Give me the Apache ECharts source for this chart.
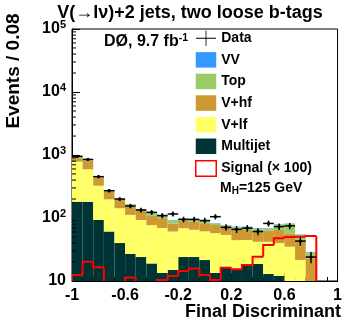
<!DOCTYPE html>
<html><head><meta charset="utf-8">
<script src="https://cdn.jsdelivr.net/npm/echarts@6/dist/echarts.min.js"></script>
<style>html,body{margin:0;padding:0;background:#fff}#c{width:345px;height:322px}</style>
</head><body><div id="c"></div>
<script>
// ---- data ----
const binLow = [-1,-0.92,-0.84,-0.76,-0.68,-0.6,-0.52,-0.44,-0.36,-0.28,-0.2,-0.12,-0.04,0.04,0.12,0.2,0.28,0.36,0.44,0.52,0.6,0.68,0.76,0.84,0.92];
const binW = 0.08;
const multijet = [181,181,93,61,40,27,24,19,13.4,15,24,24,21.5,13.4,16.9,15.5,17.3,18.6,12.9,12,8,5,2,0,0];
const vlf      = [602,412,233,137,103,85,69,58,56,46,45,41,40,44,37,29,27.5,23.4,29,28,27,16.5,3,0,0];
const vhf      = [104,220,117,63,50,39,38,31,30,21,22,22.4,21,20,17,19.8,19.8,19,21,24.6,22,24.5,18,0,0];
const topq     = [47,16,18,10,9,12,6.5,11.5,11.5,9.5,6.5,6.5,7.5,3.8,4.8,6.9,6.9,6.8,4.8,14.2,24,8.2,5.5,0,0];
const vv       = [6,5,3,2,2,2,1.5,1.5,1.5,1.5,1.5,1.5,1.5,1.2,1.2,1.5,1.5,1.2,1.2,1.2,1,0.8,0.5,0,0];
const dataObs  = [950,850,453,271,200,155,134,123,109,116,95,95,91,105,71,66,69,61,82,73,75,43,24,null,null];
const signal   = [12.4,20.2,16.5,8,7,11.4,9,8,10.4,12,14.4,15.8,12.4,10.4,16.2,15.3,17.9,24.3,37.2,47.6,50,50.5,52,0,0];
const xTickLabels = ['-1','-0.6','-0.2','0.2','0.6','1'];
const yDecades = [10,100,1000,10000,100000];

const FONT = '"Liberation Sans", Arial, sans-serif';
const COLORS = {vv:'#3399ff', top:'#99cc66', vhf:'#cc9933', vlf:'#ffff66', mj:'#003333', sig:'#ff0000'};
const FLOOR = 0.01;

const comps = [
  {name:'Multijet', vals:multijet, color:COLORS.mj},
  {name:'V+lf', vals:vlf, color:COLORS.vlf},
  {name:'V+hf', vals:vhf, color:COLORS.vhf},
  {name:'Top', vals:topq, color:COLORS.top},
  {name:'VV', vals:vv, color:COLORS.vv}
];
const cum = binLow.map(()=>0);
const series = [];
comps.forEach(c => {
  const d = binLow.map((x,i) => {
    const lo = cum[i], hi = cum[i] + c.vals[i];
    cum[i] = hi;
    return [x, x + binW, lo, hi];
  });
  series.push({
    type:'custom', name:c.name, clip:true, z:2,
    itemStyle:{color:c.color},
    encode:{x:[0,1], y:[2,3]},
    data:d,
    renderItem:(params, api) => {
      const x0 = api.value(0), x1 = api.value(1), lo = api.value(2), hi = api.value(3);
      if (!(hi > lo) || hi <= 0) return null;
      const p0 = api.coord([x0, Math.max(lo, FLOOR)]);
      const p1 = api.coord([x1, hi]);
      return {type:'rect', shape:{x:p0[0], y:p1[1], width:p1[0]-p0[0], height:p0[1]-p1[1]},
              style:{fill:c.color, stroke:null}};
    }
  });
});

// signal step line
series.push({
  type:'custom', name:'Signal (× 100)', clip:true, z:4,
  itemStyle:{color:COLORS.sig},
  encode:{x:[0,1], y:[2,3]},
  data: binLow.map((x,i) => [x, x + binW, i ? signal[i-1] : 0, signal[i]]),
  renderItem:(params, api) => {
    const x0 = api.value(0), x1 = api.value(1);
    const prev = Math.max(api.value(2), FLOOR), cur = Math.max(api.value(3), FLOOR);
    return {type:'polyline', shape:{points:[api.coord([x0, prev]), api.coord([x0, cur]), api.coord([x1, cur])]},
            style:{stroke:COLORS.sig, lineWidth:2, fill:null}};
  }
});

// data points
series.push({
  type:'custom', name:'Data', clip:true, z:5,
  itemStyle:{color:'#000'},
  encode:{x:0, y:1},
  data: binLow.map((x,i) => dataObs[i] == null ? null : [x + binW/2, dataObs[i], x, x + binW]).filter(d => d),
  renderItem:(params, api) => {
    const xc = api.value(0), n = api.value(1), x0 = api.value(2), x1 = api.value(3);
    const e = Math.sqrt(n);
    const pc = api.coord([xc, n]);
    const pl = api.coord([x0, n]), pr = api.coord([x1, n]);
    const pt = api.coord([xc, n + e]), pb = api.coord([xc, Math.max(n - e, FLOOR)]);
    return {type:'group', children:[
      {type:'line', shape:{x1:pl[0], y1:pl[1], x2:pr[0], y2:pr[1]}, style:{stroke:'#000', lineWidth:1.5}},
      {type:'line', shape:{x1:pt[0], y1:pt[1], x2:pb[0], y2:pb[1]}, style:{stroke:'#000', lineWidth:1.5}},
      {type:'circle', shape:{cx:pc[0], cy:pc[1], r:1.6}, style:{fill:'#000'}}
    ]};
  }
});

// log minor ticks on the y axis
const yMinor = [];
yDecades.slice(0,-1).forEach(d => { for (let m = 2; m <= 9; m++) yMinor.push(m * d); });
series.push({
  type:'custom', name:'yminor', clip:false, z:6, silent:true,
  encode:{y:0},
  data: yMinor.map(v => [v]),
  renderItem:(params, api) => {
    const p = api.coord([-1, api.value(0)]);
    return {type:'line', shape:{x1:p[0], y1:p[1], x2:p[0]+4, y2:p[1]}, style:{stroke:'#000', lineWidth:1}};
  }
});

const chart = echarts.init(document.getElementById('c'), null, {renderer:'canvas'});
chart.setOption({
  animation:false,
  backgroundColor:'#fff',
  grid:{left:72, right:3, top:29, bottom:41, show:true, borderColor:'#000', borderWidth:1, backgroundColor:'transparent'},
  xAxis:{
    type:'value', min:-1, max:1, interval:0.4,
    axisLine:{onZero:false, lineStyle:{color:'#000', width:1}},
    axisTick:{inside:true, length:8, lineStyle:{color:'#000'}},
    minorTick:{show:true, splitNumber:5, length:4, lineStyle:{color:'#000'}},
    splitLine:{show:false},
    axisLabel:{margin:7, color:'#000', fontFamily:FONT, fontWeight:'bold', fontSize:16,
      formatter:(v) => { const i = Math.round((v + 1) / 0.4); return xTickLabels[i] != null ? xTickLabels[i] : ''; }}
  },
  yAxis:{
    type:'log', logBase:10, min:10, max:100000,
    axisLine:{onZero:false, lineStyle:{color:'#000', width:1}},
    axisTick:{inside:true, length:8, lineStyle:{color:'#000'}},
    splitLine:{show:false},
    axisLabel:{margin:6, color:'#000',
      formatter:(v) => { const e = Math.round(Math.log10(v)); return e === 1 ? '{b|10}' : '{b|10}{s|' + e + '}'; },
      rich:{
        b:{fontFamily:FONT, fontWeight:'bold', fontSize:16, color:'#000'},
        s:{fontFamily:FONT, fontWeight:'bold', fontSize:11, color:'#000', verticalAlign:'bottom', padding:[0,0,9,0]}
      }}
  },
  legend:{
    orient:'vertical', left:195, top:30.5, padding:0, itemWidth:20.5, itemHeight:15.5, itemGap:6.1,
    selectedMode:false,
    textStyle:{fontFamily:FONT, fontWeight:'bold', fontSize:14, color:'#000', lineHeight:15.5},
    data:[
      {name:'Data', icon:'path://M0,7.35L20,7.35L20,8.15L0,8.15Z M9.6,0L10.4,0L10.4,15.5L9.6,15.5Z', itemStyle:{color:'#000', borderWidth:0}},
      {name:'VV', icon:'rect', itemStyle:{borderWidth:0}},
      {name:'Top', icon:'rect', itemStyle:{borderWidth:0}},
      {name:'V+hf', icon:'rect', itemStyle:{borderWidth:0}},
      {name:'V+lf', icon:'rect', itemStyle:{borderWidth:0}},
      {name:'Multijet', icon:'rect', itemStyle:{borderWidth:0}},
      {name:'Signal (× 100)', icon:'rect', itemStyle:{color:'#fff', borderColor:'#ff0000', borderWidth:1.5}}
    ]
  },
  graphic:[
    {type:'text', x:190, y:13, style:{text:'V(→lν)+2 jets, two loose b-tags', align:'center', verticalAlign:'middle',
      fontFamily:FONT, fontWeight:'bold', fontSize:18, fill:'#000'}},
    {type:'text', x:14, y:71, rotation:Math.PI/2, style:{text:'Events / 0.08', align:'center', verticalAlign:'middle',
      fontFamily:FONT, fontWeight:'bold', fontSize:19, fill:'#000'}},
    {type:'text', x:341, y:312, style:{text:'Final Discriminant', align:'right', verticalAlign:'middle',
      fontFamily:FONT, fontWeight:'bold', fontSize:18, fill:'#000'}},
    {type:'text', x:104, y:42, style:{text:'{b|DØ, 9.7 fb}{s|-1}', align:'left', verticalAlign:'middle',
      rich:{b:{fontFamily:FONT, fontWeight:'bold', fontSize:16, fill:'#000'},
            s:{fontFamily:FONT, fontWeight:'bold', fontSize:10.5, fill:'#000', verticalAlign:'bottom', padding:[0,0,8,0]}}}},
    {type:'text', x:220, y:188.5, style:{text:'{b|M}{s|H}{b|=125 GeV}', align:'left', verticalAlign:'middle',
      rich:{b:{fontFamily:FONT, fontWeight:'bold', fontSize:14, fill:'#000'},
            s:{fontFamily:FONT, fontWeight:'bold', fontSize:10, fill:'#000', verticalAlign:'top', padding:[6,0,0,0]}}}}
  ],
  series:series
});
</script></body></html>
